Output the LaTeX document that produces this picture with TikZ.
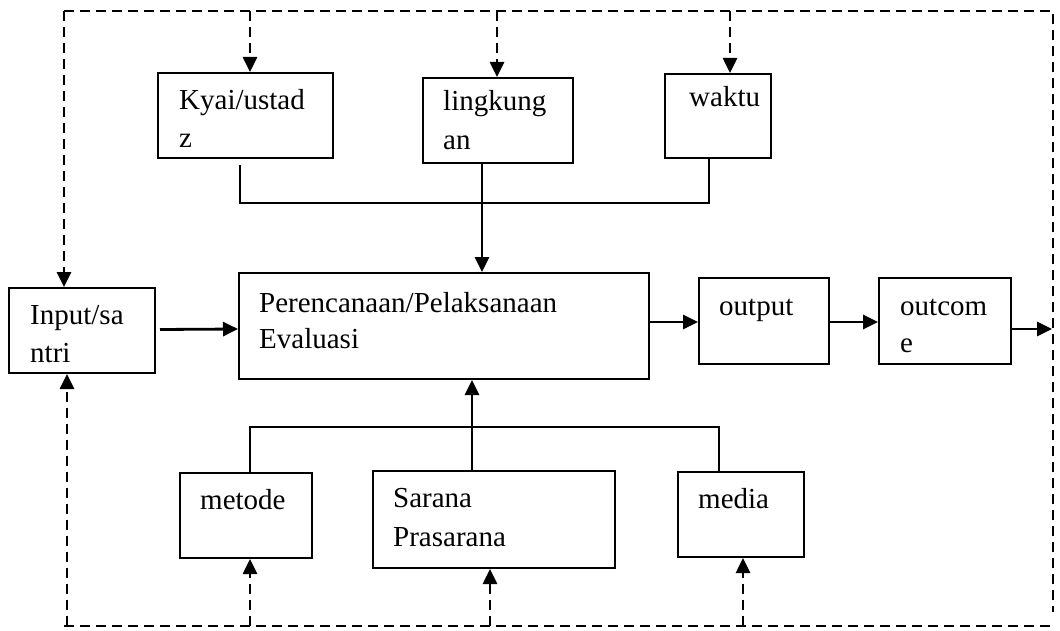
\documentclass[tikz,border=0pt]{standalone}
\usepackage{fontspec}
\setmainfont{Liberation Serif}
\usetikzlibrary{arrows.meta}
\begin{document}
\begin{tikzpicture}[x=1pt,y=-1pt,
  box/.style={draw,line width=2pt,inner sep=0pt,anchor=north west},
  txt/.style={anchor=base west,inner sep=0pt,font=\fontsize{29}{37}\selectfont},
  tip/.style={-{Triangle[length=15pt,width=14pt]}},
  dashln/.style={line width=2.6pt,dash pattern=on 10pt off 6pt},
  thinln/.style={line width=1.7pt},
  mainln/.style={line width=2.8pt}]
\useasboundingbox (0,0) rectangle (1060,631);
% boxes
\node[box,minimum width=175pt,minimum height=85pt] (kyai) at (157,72) {};
\node[box,minimum width=150pt,minimum height=85pt] (ling) at (422,77) {};
\node[box,minimum width=106pt,minimum height=84pt] (waktu) at (664,73) {};
\node[box,minimum width=146pt,minimum height=85pt] (input) at (8,287) {};
\node[box,minimum width=410pt,minimum height=106pt] (plan) at (238,272) {};
\node[box,minimum width=130pt,minimum height=86pt] (output) at (698,277) {};
\node[box,minimum width=132pt,minimum height=86pt] (outcome) at (878,277) {};
\node[box,minimum width=132pt,minimum height=85pt] (metode) at (179,472) {};
\node[box,minimum width=242pt,minimum height=97pt] (sarana) at (372,470) {};
\node[box,minimum width=126pt,minimum height=85pt] (media) at (677,471) {};
% texts
\node[txt] (kyaiA) at (179,110) {Kyai/ustad};
\node[txt] (kyaiB) at (179,148) {z};
\node[txt] (lingA) at (443,111) {lingkung};
\node[txt] (lingB) at (443,150) {an};
\node[txt] (waktuT) at (689,107) {waktu};
\node[txt] (inputA) at (30,324) {Input/sa};
\node[txt] (inputB) at (30,362) {ntri};
\node[txt] (planA) at (259,312) {Perencanaan/Pelaksanaan};
\node[txt] (planB) at (259,348) {Evaluasi};
\node[txt] (outputT) at (719,315) {output};
\node[txt] (outcomeA) at (900,315) {outcom};
\node[txt] (outcomeB) at (900,352) {e};
\node[txt] (metodeT) at (200,509) {metode};
\node[txt] (saranaA) at (393,507) {Sarana};
\node[txt] (saranaB) at (393,546) {Prasarana};
\node[txt] (mediaT) at (698,508) {media};
% frame coordinates
\coordinate (tl) at (64,11);
\coordinate (tr) at (1053,11);
\coordinate (br) at (1053,612);
\coordinate (bl) at (64,626);
\coordinate (bre) at (1052,626);
\coordinate (tk) at (250,11);
\coordinate (tlg) at (497,11);
\coordinate (tw) at (730,11);
\coordinate (bm) at (250,626);
\coordinate (bs) at (490,626);
\coordinate (bme) at (743,626);
\coordinate (bi) at (67,626);
\coordinate (end) at (1052,329);
% dashed frame
\draw[dashln] (tl) -- (tr) -- (br);
\draw[dashln] (bl) -- (bre);
\draw[dashln,tip] (tl) -- (tl |- input.north);
\draw[dashln,tip] (bi) -- (bi |- input.south);
\draw[dashln,tip] (tk) -- (tk |- kyai.north);
\draw[dashln,tip] (tlg) -- (tlg |- ling.north);
\draw[dashln,tip] (tw) -- (tw |- waktu.north);
\draw[dashln,tip] (bm) -- (bm |- metode.south);
\draw[dashln,tip] (bs) -- (bs |- sarana.south);
\draw[dashln,tip] (bme) -- (bme |- media.south);
% top collectors
\coordinate (kx) at (240,203);
\coordinate (lx) at (482,203);
\coordinate (wx) at (709,203);
\draw[thinln] (kx |- kyai.south) ++(0,6) -- (kx) -- (wx) -- (wx |- waktu.south);
\draw[mainln,tip] (lx |- ling.south) -- (lx |- plan.north);
% bottom collectors
\coordinate (mx) at (250,427);
\coordinate (sx) at (472,427);
\coordinate (dx) at (719,427);
\draw[thinln] (mx |- metode.north) -- (mx) -- (dx) -- (dx |- media.north);
\draw[mainln,tip] (sx |- sarana.north) -- (sx |- plan.south);
% main flow
\draw[mainln,tip] (input.east) ++(4,-1) -- (plan.west |- 0,329);
\draw[mainln,tip] (plan.east |- 0,322) -- (output.west |- 0,322);
\draw[mainln,tip] (output.east |- 0,322) -- (outcome.west |- 0,322);
\draw[mainln,tip] (outcome.east |- end) -- (end);
\end{tikzpicture}
\end{document}
